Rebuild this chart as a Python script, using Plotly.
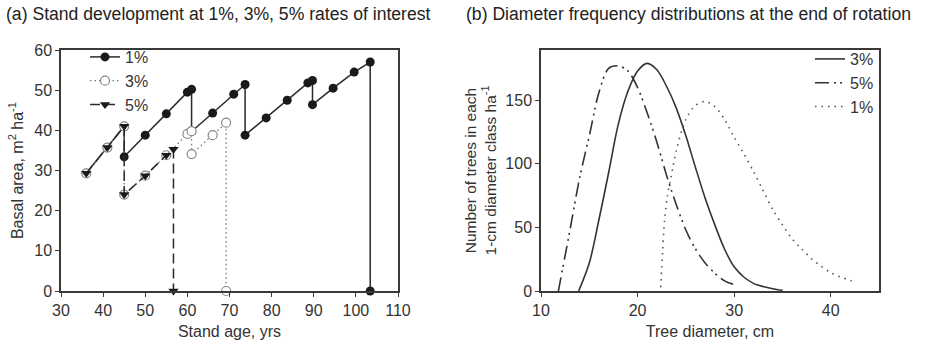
import plotly.graph_objects as go

# ---- Panel (a): stand development ----
age_1 = [36, 41, 45, 45, 50, 55, 60, 61, 61, 66, 71, 73.7, 73.7, 78.7, 83.7, 88.6, 89.7, 89.7, 94.6, 99.6, 103.4, 103.4]
ba_1 = [29.3, 35.7, 41.0, 33.4, 38.8, 44.1, 49.5, 50.2, 39.7, 44.3, 49.0, 51.4, 38.8, 43.1, 47.5, 51.8, 52.4, 46.4, 50.5, 54.5, 57.0, 0]

age_3 = [36, 41, 45, 45, 50, 55, 60, 61, 61, 66, 69.2, 69.2]
ba_3 = [29.3, 35.7, 41.0, 24.0, 28.7, 33.8, 39.1, 39.8, 34.1, 38.8, 41.9, 0]

age_5 = [36, 41, 45, 45, 50, 55, 56.7, 56.7]
ba_5 = [29.3, 35.7, 41.0, 24.0, 28.7, 33.8, 35.3, 0]

# ---- Panel (b): diameter distributions ----
d_3 = [13.9, 15, 16, 17, 18, 19, 20, 21, 22, 23, 24, 25, 26, 27, 28, 29, 30, 31, 32, 33, 34, 35]
n_3 = [0, 22, 56, 93, 131, 157, 173, 179, 174, 161, 144, 122, 97, 73, 52, 33, 19, 11, 6, 3.5, 1.8, 0.5]

d_5 = [11.8, 12, 13, 14, 15, 16, 17, 18, 19, 20, 21, 22, 23, 24, 25, 26, 27, 28, 29, 30.2]
n_5 = [0, 8, 48, 89, 122, 156, 175, 177, 173, 160, 140, 117, 91, 68, 48, 33, 22, 14, 8, 4.5]

d_1 = [22.4, 22.6, 22.8, 23.1, 23.6, 24, 25, 26, 27, 28, 29, 30, 31, 32, 33, 34, 35, 36, 37, 38, 39, 40, 41, 42, 42.4]
n_1 = [3, 32, 56, 75, 95, 110, 135, 146, 149, 145, 135, 121, 108, 94, 79, 64, 52, 41, 33, 25.5, 19.5, 14.5, 11, 8.5, 7]

FONT = "Arial, Liberation Sans, sans-serif"
TXT = "#333333"
AX = "#3a3a3a"

fig = go.Figure()

fig.add_trace(go.Scatter(
    x=age_1, y=ba_1, name="1%", mode="lines+markers", cliponaxis=False,
    line=dict(color="#2a2a2a", width=1.5),
    marker=dict(symbol="circle", size=9, color="#1a1a1a", line=dict(width=0)),
    xaxis="x", yaxis="y", legend="legend"))
fig.add_trace(go.Scatter(
    x=age_3, y=ba_3, name="3%", mode="lines+markers", cliponaxis=False,
    line=dict(color="#777777", width=1.3, dash="1.5px,3px"),
    marker=dict(symbol="circle", size=9, color="white", line=dict(width=1.2, color="#888888")),
    xaxis="x", yaxis="y", legend="legend"))
fig.add_trace(go.Scatter(
    x=age_5, y=ba_5, name="5%", mode="lines+markers", cliponaxis=False,
    line=dict(color="#2a2a2a", width=1.5, dash="10px,5px"),
    marker=dict(symbol="triangle-down", size=9, color="#1a1a1a", line=dict(width=0)),
    xaxis="x", yaxis="y", legend="legend"))

fig.add_trace(go.Scatter(
    x=d_3, y=n_3, name="3%", mode="lines", cliponaxis=False,
    line=dict(color="#333333", width=1.6, shape="spline", smoothing=0.9),
    xaxis="x2", yaxis="y2", legend="legend2"))
fig.add_trace(go.Scatter(
    x=d_5, y=n_5, name="5%", mode="lines", cliponaxis=False,
    line=dict(color="#333333", width=1.6, dash="14px,5px,2px,4px,2px,5px", shape="spline", smoothing=0.9),
    xaxis="x2", yaxis="y2", legend="legend2"))
fig.add_trace(go.Scatter(
    x=d_1, y=n_1, name="1%", mode="lines", cliponaxis=False,
    line=dict(color="#555555", width=1.6, dash="1.5px,5px", shape="spline", smoothing=0.9),
    xaxis="x2", yaxis="y2", legend="legend2"))

W, H = 926, 346
def px(x):
    return x / W
def py(y):
    return 1 - y / H

axis_common = dict(
    showline=True, linecolor=AX, linewidth=1.5, mirror=True,
    ticks="outside", ticklen=4, tickwidth=1.3, tickcolor=AX,
    showgrid=False, zeroline=False, automargin=False,
    tickfont=dict(family=FONT, size=16, color=TXT),
)
title_font = dict(family=FONT, size=16, color=TXT)

fig.update_layout(
    width=W, height=H,
    margin=dict(l=0, r=0, t=0, b=0),
    paper_bgcolor="white", plot_bgcolor="white",
    font=dict(family=FONT, color=TXT),
    xaxis=dict(domain=[px(61), px(398)], range=[30, 110], dtick=10,
               title=dict(text="Stand age, yrs", standoff=8, font=title_font), anchor="y", **axis_common),
    yaxis=dict(domain=[py(291), py(50)], range=[0, 60], dtick=10,
               title=dict(text="Basal area, m<sup>2</sup> ha<sup>-1</sup>", standoff=7, font=title_font),
               anchor="x", **axis_common),
    xaxis2=dict(domain=[px(541), px(879)], range=[10, 45], tickvals=[10, 20, 30, 40],
                title=dict(text="Tree diameter, cm", standoff=8, font=title_font), anchor="y2", **axis_common),
    yaxis2=dict(domain=[py(291), py(50)], range=[0, 189.5], tickvals=[0, 50, 100, 150],
                title=dict(text="Number of trees in each<br>1-cm diameter class ha<sup>-1</sup>", standoff=5,
                           font=dict(family=FONT, size=15.5, color=TXT)),
                anchor="x2", **axis_common),
    legend=dict(x=px(85), y=py(40), xanchor="left", yanchor="top",
                bgcolor="rgba(0,0,0,0)", font=dict(family=FONT, size=16, color=TXT),
                tracegroupgap=0, itemwidth=30),
    legend2=dict(x=px(810), y=py(42), xanchor="left", yanchor="top",
                 bgcolor="rgba(0,0,0,0)", font=dict(family=FONT, size=16, color=TXT),
                 tracegroupgap=0, itemwidth=30),
    annotations=[
        dict(text="(a) Stand development at 1%, 3%, 5% rates of interest", x=px(4), y=py(14),
             xref="paper", yref="paper", xanchor="left", yanchor="middle", showarrow=False,
             font=dict(family=FONT, size=17.6, color="#222222")),
        dict(text="(b) Diameter frequency distributions at the end of rotation", x=px(464), y=py(14),
             xref="paper", yref="paper", xanchor="left", yanchor="middle", showarrow=False,
             font=dict(family=FONT, size=17.6, color="#222222")),
    ],
)

fig.write_html("out.html", config={"displayModeBar": False},
               post_script="document.body.style.margin='0px';")
